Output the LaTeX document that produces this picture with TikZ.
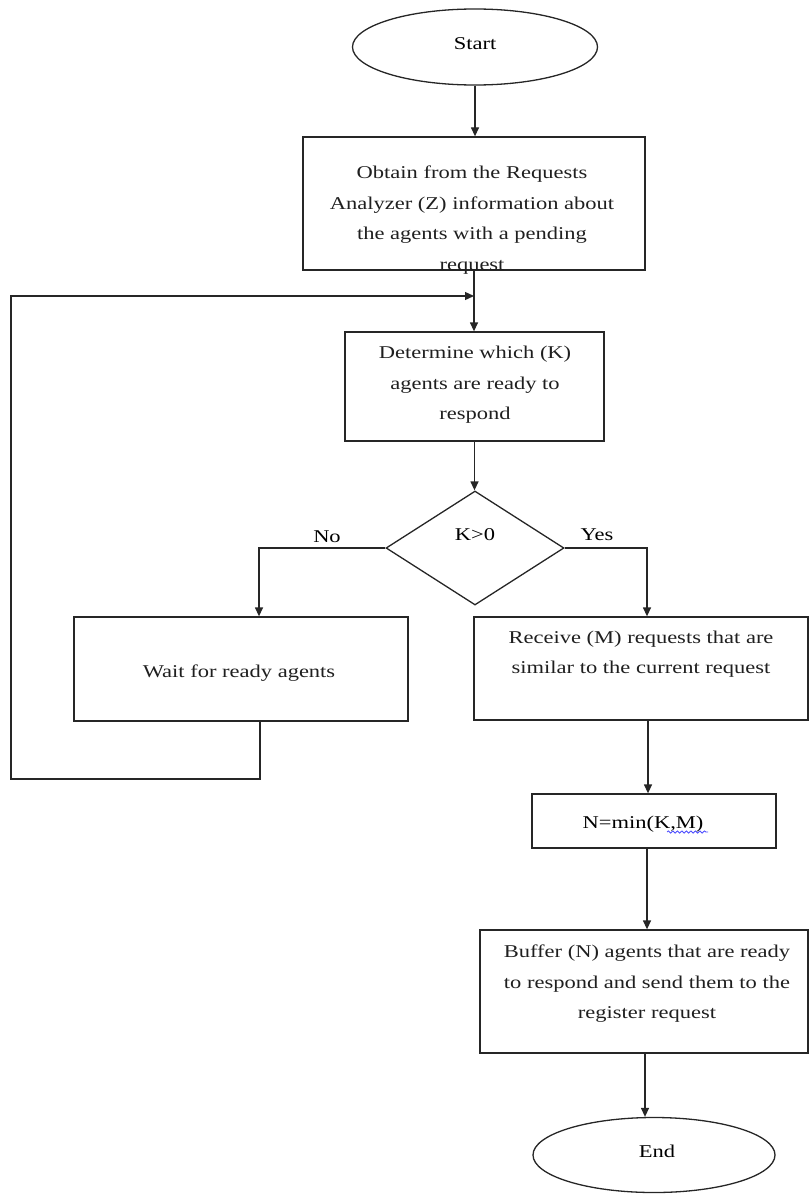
\documentclass[tikz,border=0pt]{standalone}
\usepackage{fontspec}
\setmainfont{Liberation Serif}[FakeStretch=1.25]
\usetikzlibrary{shapes.geometric,arrows.meta,decorations.pathmorphing}

\tikzset{
  line/.style={draw=black!85, line width=1.3pt},
  flow/.style={line, -{Triangle[length=9pt,width=8pt]}},
  procbox/.style={line, rectangle, inner sep=0pt},
  term/.style={line, ellipse, inner sep=0pt},
  decide/.style={line, diamond, inner sep=0pt},
  txt/.style={align=center, text=black!88, inner sep=0pt,
    font=\fontsize{18}{30.5}\selectfont},
  lbl/.style={text=black, inner sep=0pt, font=\fontsize{18}{22}\selectfont},
}

\begin{document}
\begin{tikzpicture}[x=1pt,y=-1pt]
  \useasboundingbox (0,0) rectangle (810,1196);

  % terminals, process boxes and the decision
  \node[term, minimum width=245pt, minimum height=76pt] (start) at (475,47) {};
  \node[procbox, minimum width=342pt, minimum height=133pt] (obtain) at (474,203.5) {};
  \node[procbox, minimum width=259pt, minimum height=109pt] (determine) at (474.5,386.5) {};
  \node[decide, minimum width=178pt, minimum height=114pt] (kcheck) at (475,548) {};
  \node[procbox, minimum width=334pt, minimum height=104pt] (wait) at (241,669) {};
  \node[procbox, minimum width=334pt, minimum height=103pt] (receive) at (641,668.5) {};
  \node[procbox, minimum width=244pt, minimum height=54pt] (nmin) at (654,821) {};
  \node[procbox, minimum width=328pt, minimum height=123pt] (buffer) at (644,991.5) {};
  \node[term, minimum width=242pt, minimum height=75pt] (end) at (654,1155) {};

  % texts
  \node[lbl] (starttxt) at (475,44) {Start};
  \node[txt] (obtaintxt) at (472,220) {Obtain from the Requests\\Analyzer (Z) information about\\the agents with a pending\\request};
  \node[txt] (determinetxt) at (475,385) {Determine which (K)\\agents are ready to\\respond};
  \node[lbl] (kchecktxt) at (475,535) {K>0};
  \node[lbl] (notxt) at (327,537) {No};
  \node[lbl] (yestxt) at (597,535) {Yes};
  \node[txt] (waittxt) at (239,673) {Wait for ready agents};
  \node[txt] (receivetxt) at (641,654) {Receive (M) requests that are\\similar to the current request};
  \node[lbl] (nmintxt) at (643,824) {N=min(K,M)};
  \node[txt] (buffertxt) at (647,984) {Buffer (N) agents that are ready\\to respond and send them to the\\register request};
  \node[lbl] (endtxt) at (657,1151) {End};

  % spell-check underline below "K,M"
  \draw[blue!70, line width=0.8pt,
        decorate, decoration={snake, amplitude=1.1pt, segment length=4.5pt}]
    (667,832) -- (708,832);

  % main flow
  \draw[flow] (start.south) -- (start.south |- obtain.north);
  \draw[flow] (obtain.south) -- (obtain.south |- determine.north);
  \draw[flow] (determine.south) -- (determine.south |- kcheck.north);
  \draw[flow] (kcheck.west) -| ([xshift=18pt]wait.north);
  \draw[flow] (kcheck.east) -| ([xshift=6pt]receive.north);
  \draw[flow] ([xshift=7pt]receive.south) -- ([xshift=7pt]receive.south |- nmin.north);
  \draw[flow] ([xshift=3pt]buffer.north |- nmin.south) -- ([xshift=3pt]buffer.north);
  \draw[flow] ([xshift=1pt]buffer.south) -- ([xshift=1pt]buffer.south |- end.north);

  % return loop from the waiting step
  \coordinate (loopcorner) at (11,779);
  \coordinate (merge) at (474,296);
  \draw[flow] ([xshift=19pt]wait.south) |- (loopcorner) |- (merge);
\end{tikzpicture}
\end{document}
